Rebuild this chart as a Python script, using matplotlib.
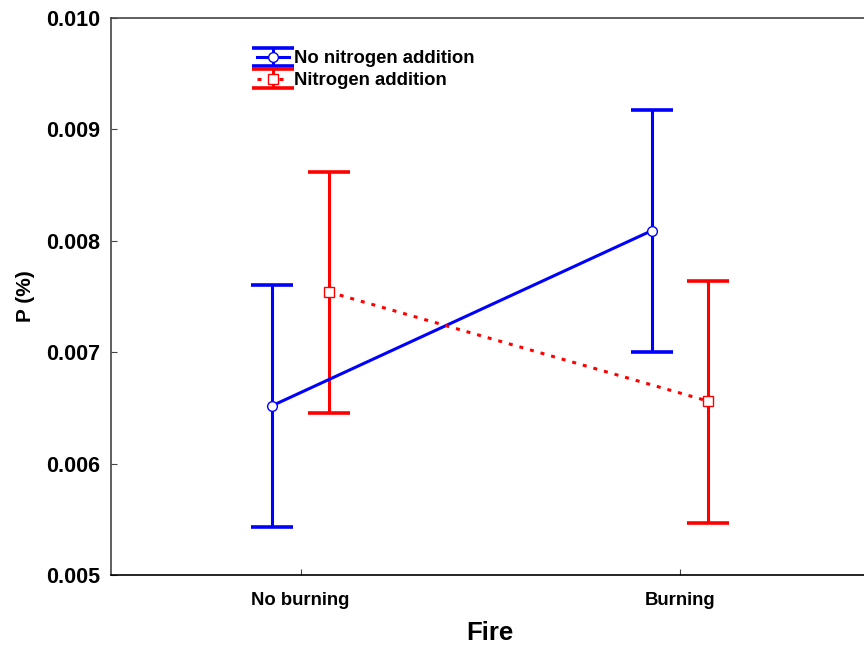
import numpy as np
import matplotlib.pyplot as plt

plt.rcParams['font.family'] = ['Liberation Sans', 'DejaVu Sans']
plt.rcParams['font.weight'] = 'bold'
plt.rcParams['axes.labelweight'] = 'bold'

categories = ['No burning', 'Burning']
no_n_mean = [0.00652, 0.00809]
no_n_low = [0.00543, 0.00700]
no_n_high = [0.00760, 0.00917]
n_mean = [0.00754, 0.00656]
n_low = [0.00645, 0.00547]
n_high = [0.00862, 0.00764]

x = np.arange(len(categories))
offset = 0.075

fig = plt.figure(figsize=(8.64, 6.47), dpi=100)
ax = fig.add_axes([0.1285, 0.1113, 0.878, 0.8609])

def draw(xpos, mean, low, high, color, marker, ls, label):
    mean = np.array(mean)
    yerr = [mean - np.array(low), np.array(high) - mean]
    ax.errorbar(xpos, mean, yerr=yerr, color=color, linestyle=ls,
                linewidth=2.2, elinewidth=2.2, capsize=15, capthick=2.6,
                marker=marker, markersize=7, markerfacecolor='white',
                markeredgecolor=color, label=label, zorder=3)

draw(x - offset, no_n_mean, no_n_low, no_n_high, '#0000ff', 'o', '-', 'No nitrogen addition')
draw(x + offset, n_mean, n_low, n_high, '#ff0000', 's', (0, (1.3, 2.3)), 'Nitrogen addition')

ax.set_xlim(-0.5, 1.5)
ax.set_ylim(0.005, 0.010)
ax.set_yticks([0.005, 0.006, 0.007, 0.008, 0.009, 0.010])
ax.set_yticklabels(['%.3f' % v for v in ax.get_yticks()], fontsize=15.5)
ax.set_xticks(x)
ax.set_xticklabels(categories, fontsize=13.3)
ax.tick_params(direction='in', length=4, width=0.8, color='#444444', pad=8)
ax.tick_params(axis='x', pad=12)
for side in ['left', 'top', 'bottom', 'right']:
    ax.spines[side].set_color('#444444')
    ax.spines[side].set_linewidth(1.2)
ax.spines['bottom'].set_color('black')

ax.set_xlabel('Fire', fontsize=18.5, labelpad=9)
ax.set_ylabel('P (%)', fontsize=15, labelpad=8)

ax.legend(loc='upper left', bbox_to_anchor=(0.183, 0.955), frameon=False, fontsize=13.3,
          handlelength=1.7, handletextpad=0.27, labelspacing=0.25, borderaxespad=0)

plt.savefig('out.png', dpi=100)
